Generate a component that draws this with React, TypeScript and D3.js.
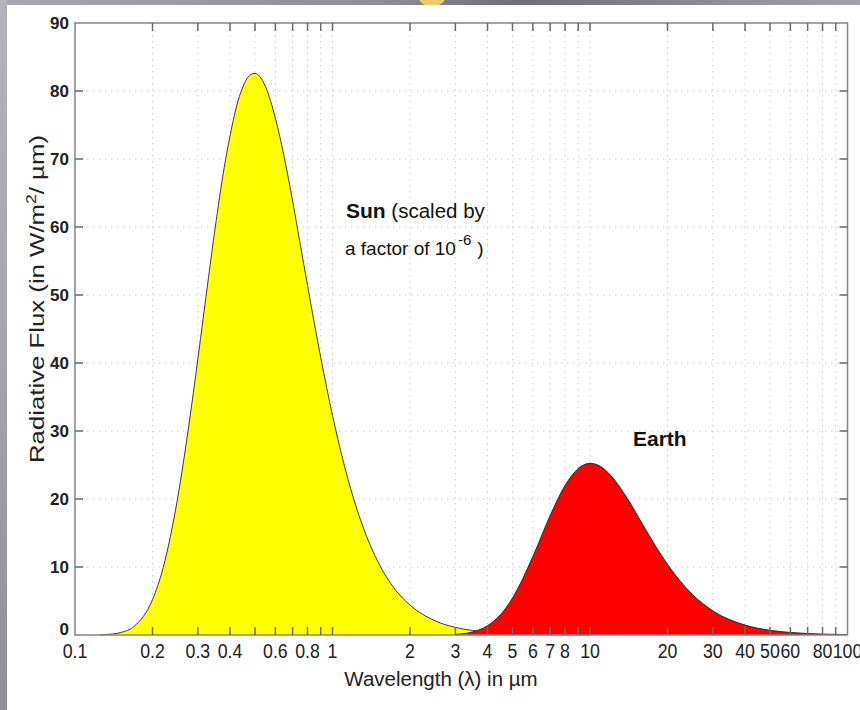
import React from "react";
import * as d3 from "d3";

// ---- data ----
const sunWavelengths = [0.125, 0.14, 0.15, 0.17, 0.2, 0.22, 0.25, 0.28, 0.3, 0.33, 0.35, 0.38, 0.4, 0.43, 0.45, 0.48, 0.5, 0.52, 0.55, 0.6, 0.65, 0.7, 0.75, 0.8, 0.9, 1.0, 1.1, 1.2, 1.35, 1.5, 1.75, 2.0, 2.5, 3.0, 3.5, 4, 5, 7, 10];
const sunFlux = [0.03, 0.15, 0.35, 1.3, 5.2, 9.9, 20.0, 32.2, 40.6, 52.6, 59.8, 68.8, 73.4, 78.6, 80.7, 82.4, 82.6, 82.2, 80.6, 76.0, 70.2, 63.8, 57.4, 51.4, 40.8, 32.3, 25.6, 20.4, 14.7, 10.8, 6.7, 4.4, 2.1, 1.12, 0.66, 0.41, 0.18, 0.05, 0.01];
const earthWavelengths = [3, 3.5, 4, 4.5, 5, 6, 7, 8, 9, 10, 11, 12, 14, 16, 18, 20, 25, 30, 40, 50, 60, 80, 100];
const earthFlux = [0.09, 0.45, 1.37, 3.03, 5.43, 11.53, 17.55, 21.98, 24.47, 25.24, 24.77, 23.53, 20.0, 16.28, 13.03, 10.38, 5.95, 3.55, 1.46, 0.69, 0.37, 0.13, 0.06];

const xTickValues = [0.2, 0.3, 0.4, 0.5, 0.6, 0.7, 0.8, 0.9, 1, 2, 3, 4, 5, 6, 7, 8, 9, 10, 20, 30, 40, 50, 60, 70, 80, 90];
const xLabelValues = [0.1, 0.2, 0.3, 0.4, 0.6, 0.8, 1, 2, 3, 4, 5, 6, 7, 8, 10, 20, 30, 40, 50, 60, 80, 100];
const yTickValues = [0, 10, 20, 30, 40, 50, 60, 70, 80, 90];

const W = 860;
const H = 710;
const left = 75, right = 847.5, top = 23, bottom = 635;

export default function App() {
  const x = d3.scaleLog().domain([0.1, 100]).range([left, right]);
  const y = d3.scaleLinear().domain([0, 90]).range([bottom, top]);

  const sunData = sunWavelengths.map((w, i) => [w, sunFlux[i]] as [number, number]);
  const earthData = earthWavelengths.map((w, i) => [w, earthFlux[i]] as [number, number]);

  const area = d3.area<[number, number]>()
    .x(d => x(d[0]))
    .y0(y(0))
    .y1(d => y(d[1]))
    .curve(d3.curveMonotoneX);
  const line = d3.line<[number, number]>()
    .x(d => x(d[0]))
    .y(d => y(d[1]))
    .curve(d3.curveMonotoneX);

  const font = "'Liberation Sans', Arial, Helvetica, sans-serif";

  return (
    <svg width={W} height={H} style={{ position: "absolute", left: 0, top: 0, background: "#fff" }} fontFamily={font}>
      <defs>
        <linearGradient id="topband" x1="0" x2="1" y1="0" y2="0">
          <stop offset="0" stopColor="#a9a7b0" />
          <stop offset="0.45" stopColor="#8d8b94" />
          <stop offset="0.6" stopColor="#6f6d76" />
          <stop offset="1" stopColor="#a3a1aa" />
        </linearGradient>
        <linearGradient id="leftband" x1="0" x2="0" y1="0" y2="1">
          <stop offset="0" stopColor="#b3b1b9" />
          <stop offset="0.5" stopColor="#a6a4ad" />
          <stop offset="1" stopColor="#8f8d96" />
        </linearGradient>
        <clipPath id="topclip"><rect x={0} y={0} width={W} height={5} /></clipPath>
      </defs>
      <rect x={0} y={0} width={W} height={H} fill="#fff" />
      <rect x={0} y={0} width={W} height={5} fill="url(#topband)" />
      <ellipse cx={432} cy={-2} rx={13} ry={8} fill="#e6cf6a" clipPath="url(#topclip)" />
      <rect x={0} y={0} width={7} height={H} fill="url(#leftband)" />

      {/* grid */}
      <g stroke="#c8c8c8" strokeWidth={1} strokeDasharray="1.5,4.5">
        {xTickValues.map(v => (
          <line key={"gx" + v} x1={x(v)} x2={x(v)} y1={top} y2={bottom} />
        ))}
        {yTickValues.filter(v => v > 0 && v < 90).map(v => (
          <line key={"gy" + v} x1={left} x2={right} y1={y(v)} y2={y(v)} />
        ))}
      </g>

      {/* curves */}
      <path d={area(sunData) || ""} fill="#ffff00" />
      <path d={line(sunData) || ""} fill="none" stroke="#3d3d2a" strokeWidth={1} />
      <path d={area(earthData) || ""} fill="#ff0000" />
      <path d={line(earthData) || ""} fill="none" stroke="#3a2020" strokeWidth={1} />

      {/* frame */}
      <rect x={left} y={top} width={right - left} height={bottom - top} fill="none" stroke="#858585" strokeWidth={1.5} />

      {/* ticks */}
      <g stroke="#6a6a6a" strokeWidth={1.5}>
        {xTickValues.map(v => (
          <g key={"tx" + v}>
            <line x1={x(v)} x2={x(v)} y1={bottom} y2={bottom - 8} />
            <line x1={x(v)} x2={x(v)} y1={top} y2={top + 8} />
          </g>
        ))}
        {yTickValues.filter(v => v > 0 && v < 90).map(v => (
          <g key={"ty" + v}>
            <line x1={left} x2={left + 8} y1={y(v)} y2={y(v)} />
            <line x1={right} x2={right - 8} y1={y(v)} y2={y(v)} />
          </g>
        ))}
      </g>

      {/* y tick labels */}
      <g fontSize={17} fontWeight="bold" fill="#222" textAnchor="end">
        {yTickValues.map(v => (
          <text key={"ly" + v} x={left - 6} y={y(v) + 6 - (v === 0 ? 6 : 0)}>{v}</text>
        ))}
      </g>

      {/* x tick labels */}
      <g fontSize={18.5} fill="#222" textAnchor="middle">
        {xLabelValues.map(v => (
          <text key={"lx" + v} transform={`translate(${x(v)},658) scale(0.96,1.1)`}>{String(v)}</text>
        ))}
      </g>

      {/* axis titles */}
      <text x={441} y={686} fontSize={20.5} textAnchor="middle" fill="#222">Wavelength (λ) in µm</text>
      <text transform="translate(44,299) rotate(-90)" fontSize={20.5} textAnchor="middle" fill="#222" textLength={328} lengthAdjust="spacingAndGlyphs">
        Radiative Flux (in W/m<tspan dy={-8} fontSize={14}>2</tspan><tspan dy={8}>/ µm)</tspan>
      </text>

      {/* annotations */}
      <text x={346} y={218} fontSize={20.5} fill="#111">
        <tspan fontWeight="bold" fontSize={21}>Sun</tspan>
        <tspan> (scaled by</tspan>
      </text>
      <text x={345} y={255} fontSize={19} fill="#111">
        a factor of 10<tspan dx={2} dy={-10} fontSize={15}>-6</tspan><tspan dx={6} dy={10}>)</tspan>
      </text>
      <text x={633} y={446} fontSize={21} fontWeight="bold" fill="#111">Earth</text>
    </svg>
  );
}
